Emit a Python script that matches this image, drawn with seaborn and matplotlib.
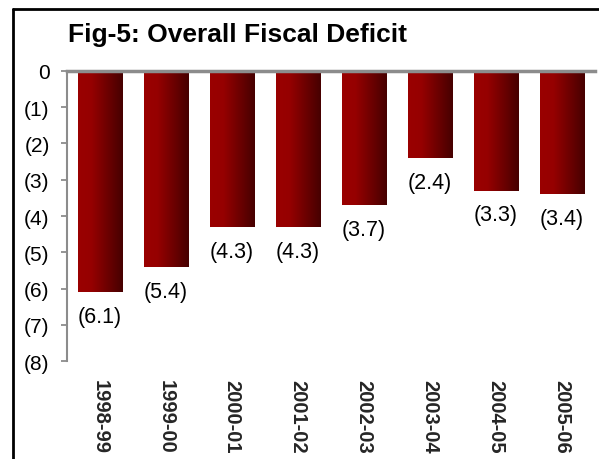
import numpy as np
import pandas as pd
import matplotlib
matplotlib.use("Agg")
import matplotlib.pyplot as plt
from matplotlib.colors import LinearSegmentedColormap
from matplotlib.lines import Line2D
import seaborn as sns

# Overall fiscal deficit (% of GDP), shown as negatives
years = ["1998-99", "1999-00", "2000-01", "2001-02", "2002-03", "2003-04", "2004-05", "2005-06"]
deficit = [-6.1, -5.4, -4.3, -4.3, -3.7, -2.4, -3.3, -3.4]
y_ticks = [0, -1, -2, -3, -4, -5, -6, -7, -8]
y_tick_labels = ["0", "(1)", "(2)", "(3)", "(4)", "(5)", "(6)", "(7)", "(8)"]

df = pd.DataFrame({"year": years, "deficit": deficit})

sns.set_theme(style="white")
plt.rcParams["font.family"] = ["Liberation Sans", "DejaVu Sans"]

fig = plt.figure(figsize=(5.99, 4.60), dpi=100)
ax = fig.add_axes([0.1119, 0.2130, 0.8814, 0.6305])

sns.barplot(data=df, x="year", y="deficit", order=years, color="#8b0000",
            width=0.68, ax=ax, errorbar=None, saturation=1)

# horizontal red-to-dark gradient on each bar
grad = LinearSegmentedColormap.from_list(
    "bar_grad", [(0.0, "#9a0000"), (0.3, "#960000"), (1.0, "#460000")])
gimg = np.linspace(0, 1, 256).reshape(1, -1)
for p in ax.patches:
    x0, w = p.get_x(), p.get_width()
    y0, h = p.get_y(), p.get_height()
    im = ax.imshow(gimg, cmap=grad, aspect="auto",
                   extent=[x0, x0 + w, y0 + h, y0], zorder=p.get_zorder() + 0.1)
    im.set_clip_path(p)

# value labels below each bar end
for i, v in enumerate(deficit):
    ax.annotate(f"({abs(v):.1f})", xy=(i, v), xytext=(0, -17.5), textcoords="offset points",
                ha="center", va="center", fontsize=15.5, color="black")

ax.set_xlim(-0.5, len(years) - 0.5)
ax.set_ylim(-8, 0)
ax.set_yticks(y_ticks)
ax.set_yticklabels(y_tick_labels, fontsize=15)
ax.set_xlabel("")
ax.set_ylabel("")

for s in ["right", "bottom"]:
    ax.spines[s].set_visible(False)
ax.spines["left"].set_color("#8c8c8c")
ax.spines["left"].set_linewidth(1.5)
ax.spines["top"].set_color("#8c8c8c")
ax.spines["top"].set_linewidth(2.5)

ax.tick_params(axis="y", which="major", left=True, length=4.5, width=1.3,
               color="#8c8c8c", pad=8, labelcolor="black")
ax.tick_params(axis="x", length=0, pad=13)
for lbl in ax.get_xticklabels():
    lbl.set_rotation(270)
    lbl.set_fontweight("bold")
    lbl.set_fontsize(14.5)
    lbl.set_va("top")
    lbl.set_ha("center")

fig.text(0.114, 0.924, "Fig-5: Overall Fiscal Deficit", fontsize=19, fontweight="bold",
         ha="left", va="center", color="black")

# outer frame (top and left edges visible)
fig.add_artist(Line2D([13 / 599, 13 / 599], [0, 1 - 10 / 460], transform=fig.transFigure,
                      color="black", linewidth=2))
fig.add_artist(Line2D([13 / 599, 1], [1 - 10 / 460, 1 - 10 / 460], transform=fig.transFigure,
                      color="black", linewidth=2))

fig.savefig("out.png", dpi=100)
